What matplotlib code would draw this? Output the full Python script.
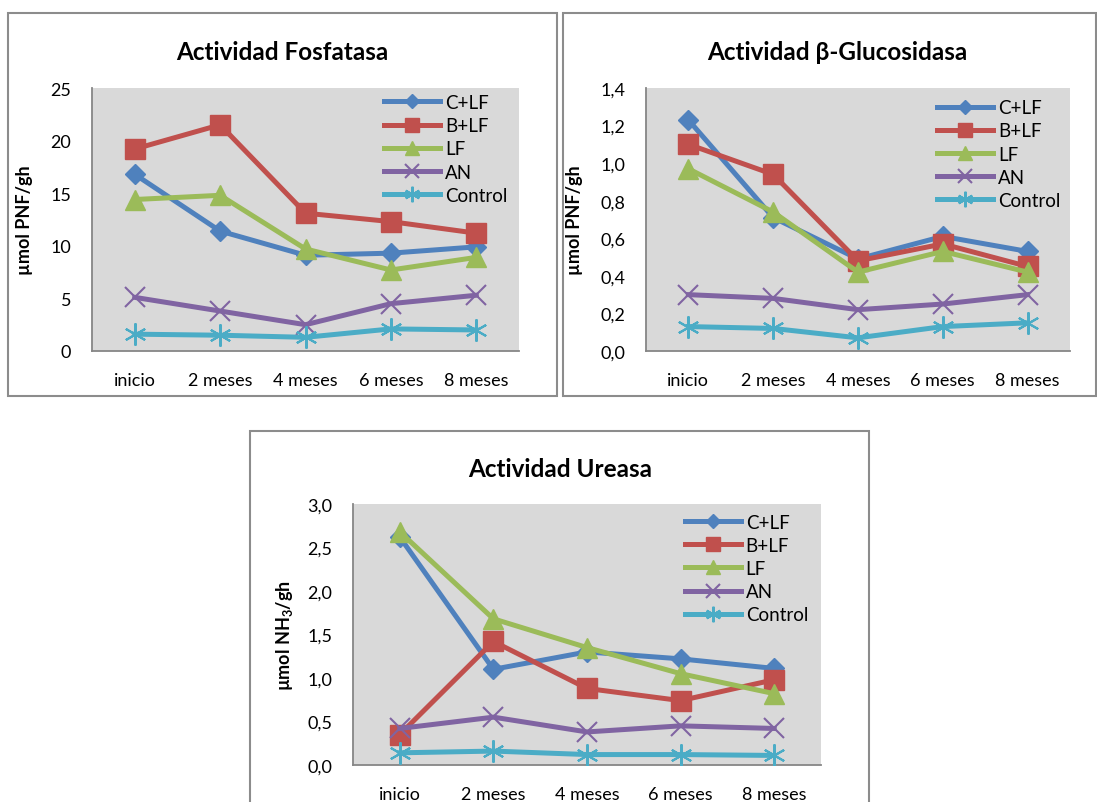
import matplotlib.pyplot as plt
from matplotlib.patches import Rectangle

plt.rcParams['font.family'] = ['Lato', 'DejaVu Sans']
plt.rcParams['mathtext.fontset'] = 'custom'
plt.rcParams['mathtext.bf'] = 'Lato:bold'
plt.rcParams['mathtext.rm'] = 'Lato'
plt.rcParams['mathtext.default'] = 'bf'

meses = ["inicio", "2 meses", "4 meses", "6 meses", "8 meses"]
series = ["C+LF", "B+LF", "LF", "AN", "Control"]

# Actividad Fosfatasa (umol PNF/gh)
fosf_clf = [16.8, 11.4, 9.1, 9.3, 9.9]
fosf_blf = [19.2, 21.5, 13.1, 12.3, 11.2]
fosf_lf = [14.4, 14.8, 9.7, 7.7, 8.9]
fosf_an = [5.1, 3.8, 2.5, 4.5, 5.3]
fosf_ctrl = [1.6, 1.5, 1.3, 2.1, 2.0]

# Actividad beta-Glucosidasa (umol PNF/gh)
gluc_clf = [1.23, 0.71, 0.49, 0.61, 0.53]
gluc_blf = [1.10, 0.94, 0.48, 0.57, 0.45]
gluc_lf = [0.97, 0.74, 0.42, 0.53, 0.42]
gluc_an = [0.30, 0.28, 0.22, 0.25, 0.30]
gluc_ctrl = [0.13, 0.12, 0.07, 0.13, 0.15]

# Actividad Ureasa (umol NH3/gh)
urea_clf = [2.62, 1.10, 1.30, 1.22, 1.11]
urea_blf = [0.35, 1.42, 0.88, 0.74, 0.98]
urea_lf = [2.68, 1.68, 1.35, 1.05, 0.82]
urea_an = [0.42, 0.55, 0.38, 0.45, 0.42]
urea_ctrl = [0.14, 0.16, 0.12, 0.12, 0.11]

colors = ["#4F81BD", "#C0504D", "#9BBB59", "#8064A2", "#4BACC6"]
markers = ["D", "s", "^", "x", (6, 2, 0)]
msizes = [10, 14, 14, 15, 16]

W, H = 1097, 803
fig = plt.figure(figsize=(W / 100, H / 100), dpi=100)


def box(x0, y0, x1, y1):
    fig.patches.append(Rectangle((x0 / W, 1 - y1 / H), (x1 - x0) / W, (y1 - y0) / H,
                                 transform=fig.transFigure, fill=False,
                                 edgecolor="#8c8c8c", linewidth=1.5))


def panel(rect, data, title, ylabel, ymax, ystep, fmt, title_y, leg_anchor, ylab_x):
    x0, y0, x1, y1 = rect
    ax = fig.add_axes([x0 / W, 1 - y1 / H, (x1 - x0) / W, (y1 - y0) / H])
    ax.set_facecolor("#D9D9D9")
    xs = range(len(meses))
    for vals, name, c, m, ms in zip(data, series, colors, markers, msizes):
        filled = m in ("D", "s", "^")
        ax.plot(xs, vals, color=c, linewidth=3.6, marker=m, markersize=ms,
                markeredgecolor=c, markeredgewidth=1 if filled else 1.5,
                label=name, zorder=3)
    ax.set_xlim(-0.5, len(meses) - 0.5)
    ax.set_ylim(0, ymax)
    ticks = [i * ystep for i in range(int(round(ymax / ystep)) + 1)]
    ax.set_yticks(ticks)
    ax.set_yticklabels([fmt(t) for t in ticks])
    ax.set_xticks(list(xs))
    ax.set_xticklabels(meses)
    ax.tick_params(axis="both", length=0, labelsize=13)
    ax.tick_params(axis="y", pad=15)
    ax.tick_params(axis="x", pad=15)
    for s in ("top", "right"):
        ax.spines[s].set_visible(False)
    for s in ("left", "bottom"):
        ax.spines[s].set_color("#868686")
        ax.spines[s].set_linewidth(1.3)
    ax.set_ylabel(ylabel, fontsize=13, fontweight="bold")
    ax.yaxis.set_label_coords(ylab_x, 0.5)
    fig.text(title_y[0] / W, 1 - title_y[1] / H, title, fontsize=17.5,
             fontweight="bold", ha="center", va="center")
    ax.legend(loc="upper left", bbox_to_anchor=leg_anchor, frameon=False,
              fontsize=13.5, handlelength=3.0, handletextpad=0.25,
              labelspacing=0.33, borderpad=0, borderaxespad=0,
              numpoints=1, markerscale=0.7)
    return ax


box(8, 14, 557, 397)
box(563, 14, 1096, 397)
box(250, 432, 869, 815)

comma = lambda v: f"{v:.1f}".replace(".", ",")

panel((92, 89, 519, 352), [fosf_clf, fosf_blf, fosf_lf, fosf_an, fosf_ctrl],
      "Actividad Fosfatasa", "µmol PNF/gh", 25, 5, lambda v: f"{v:.0f}",
      (282, 52), (0.684, 0.977), -0.138)
panel((646, 89, 1070, 352), [gluc_clf, gluc_blf, gluc_lf, gluc_an, gluc_ctrl],
      "Actividad β-Glucosidasa", "µmol PNF/gh", 1.4, 0.2, comma,
      (837, 52), (0.686, 0.957), -0.149)
panel((353, 505, 821, 766), [urea_clf, urea_blf, urea_lf, urea_an, urea_ctrl],
      "Actividad Ureasa", "µmol NH$_3$/gh", 3.0, 0.5, comma,
      (560, 470), (0.709, 0.963), -0.124)

fig.savefig("out.png", dpi=100)
